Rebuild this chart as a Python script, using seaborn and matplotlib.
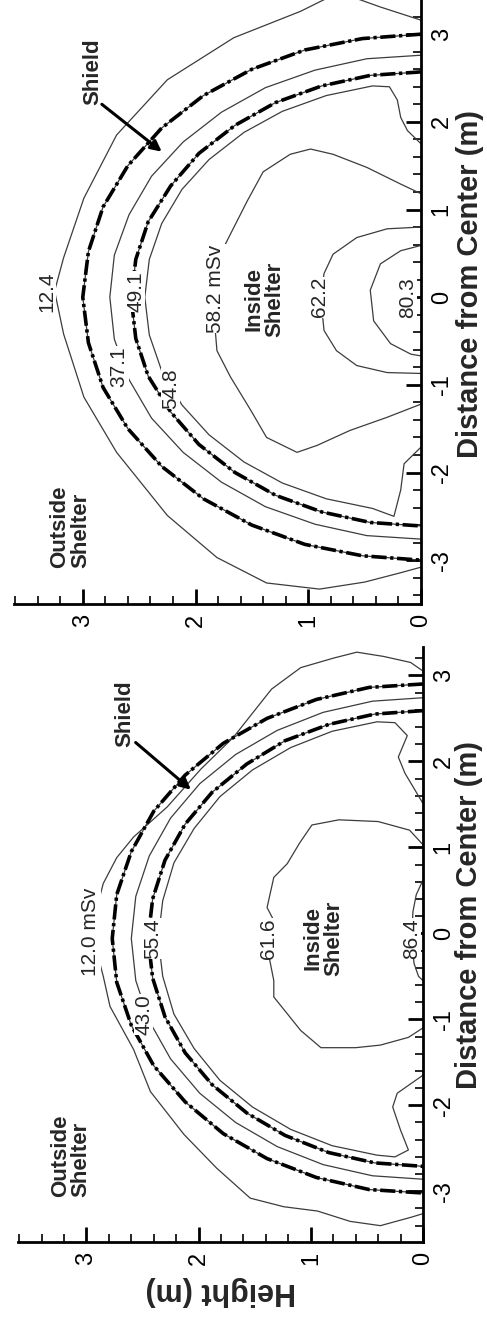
import matplotlib
matplotlib.use("Agg")
import matplotlib.pyplot as plt
from matplotlib.ticker import MultipleLocator
import pandas as pd
import seaborn as sns

# --------------------------------------------------------------
# Data: contour lines as (height m, distance m) points
# --------------------------------------------------------------
# upper panel (hemispherical shield)
top_12_4 = [(0.00, 3.16), (0.36, 3.31), (0.60, 3.42), (0.85, 3.40), (1.07, 3.26), (1.66, 2.96),
            (2.25, 2.48), (2.70, 1.85), (2.99, 1.13), (3.17, 0.45), (3.25, 0.07), (3.17, -0.42),
            (2.99, -1.14), (2.70, -1.77), (2.25, -2.49), (1.81, -2.97), (1.37, -3.26),
            (0.90, -3.33), (0.50, -3.25), (0.20, -3.15), (0.00, -3.08)]
top_37_1 = [(0.00, 2.76), (0.48, 2.72), (0.94, 2.59), (1.38, 2.39), (1.77, 2.11), (2.11, 1.77),
            (2.39, 1.38), (2.59, 0.94), (2.72, 0.48), (2.76, 0.00), (2.72, -0.48), (2.59, -0.94),
            (2.39, -1.38), (2.11, -1.77), (1.77, -2.11), (1.38, -2.39), (0.94, -2.59),
            (0.48, -2.72), (0.00, -2.76)]
top_54_8 = [(0.00, 1.75), (0.12, 1.90), (0.18, 2.05), (0.21, 2.25), (0.28, 2.40), (0.43, 2.41),
            (0.84, 2.30), (1.23, 2.12), (1.57, 1.88), (1.88, 1.57), (2.12, 1.23), (2.30, 0.84),
            (2.41, 0.43), (2.45, 0.00), (2.41, -0.43), (2.30, -0.84), (2.12, -1.23),
            (1.88, -1.57), (1.57, -1.88), (1.23, -2.12), (0.84, -2.30), (0.43, -2.41),
            (0.24, -2.50), (0.18, -2.20), (0.15, -1.90), (0.00, -1.71)]
top_58_2 = [(0.00, 1.18), (0.18, 1.29), (0.48, 1.48), (0.78, 1.63), (0.98, 1.69), (1.16, 1.63),
            (1.40, 1.43), (1.54, 1.10), (1.69, 0.72), (1.78, 0.49), (1.82, 0.10), (1.83, -0.30),
            (1.81, -0.61), (1.69, -0.91), (1.51, -1.29), (1.37, -1.60), (1.10, -1.77),
            (0.92, -1.69), (0.63, -1.52), (0.30, -1.37), (0.00, -1.22)]
top_62_2 = [(0.00, 0.80), (0.30, 0.78), (0.57, 0.68), (0.78, 0.49), (0.86, 0.27), (0.89, 0.00),
            (0.86, -0.38), (0.75, -0.61), (0.57, -0.78), (0.30, -0.86), (0.00, -0.87)]
top_80_3 = [(0.00, 0.59), (0.18, 0.53), (0.36, 0.38), (0.45, 0.08), (0.42, -0.27), (0.27, -0.53),
            (0.09, -0.65), (0.00, -0.67)]
top_shield_outer = [(0.00, 3.00), (0.52, 2.95), (1.03, 2.82), (1.50, 2.60), (1.93, 2.30),
                    (2.30, 1.93), (2.60, 1.50), (2.82, 1.03), (2.95, 0.52), (3.00, 0.00),
                    (2.95, -0.52), (2.82, -1.03), (2.60, -1.50), (2.30, -1.93), (1.93, -2.30),
                    (1.50, -2.60), (1.03, -2.82), (0.52, -2.95), (0.00, -3.00)]
top_shield_inner = [(0.00, 2.57), (0.45, 2.53), (0.88, 2.41), (1.29, 2.22), (1.65, 1.96),
                    (1.97, 1.64), (2.22, 1.27), (2.42, 0.86), (2.53, 0.43), (2.57, -0.02),
                    (2.53, -0.47), (2.42, -0.90), (2.22, -1.31), (1.97, -1.68), (1.65, -2.00),
                    (1.29, -2.26), (0.88, -2.45), (0.45, -2.57), (0.00, -2.61)]
top_levels = ["12.4", "37.1", "49.1", "54.8", "58.2 mSv", "62.2", "80.3"]

# lower panel (elliptical shield)
bot_12_0 = [(0.00, 3.05), (0.11, 3.15), (0.35, 3.22), (0.59, 3.27), (0.80, 3.20), (1.09, 3.09),
            (1.35, 2.84), (1.69, 2.28), (1.98, 1.91), (2.28, 1.47), (2.58, 1.12), (2.73, 0.88),
            (2.85, 0.58), (2.91, 0.28), (2.93, -0.10), (2.85, -0.50), (2.79, -0.85),
            (2.58, -1.35), (2.43, -1.84), (2.13, -2.34), (1.84, -2.73), (1.54, -3.08),
            (1.24, -3.18), (0.94, -3.23), (0.65, -3.35), (0.38, -3.40), (0.10, -3.30),
            (0.00, -3.26)]
bot_43_0 = [(0.00, 2.74), (0.45, 2.70), (0.89, 2.57), (1.30, 2.36), (1.67, 2.08), (1.99, 1.74),
            (2.25, 1.34), (2.44, 0.90), (2.56, 0.43), (2.60, -0.06), (2.56, -0.55), (2.44, -1.02),
            (2.25, -1.46), (1.99, -1.86), (1.67, -2.20), (1.30, -2.48), (0.89, -2.69),
            (0.45, -2.82), (0.00, -2.86)]
bot_55_4 = [(0.00, 1.51), (0.16, 1.86), (0.22, 2.05), (0.14, 2.30), (0.25, 2.45), (0.41, 2.46),
            (0.81, 2.35), (1.18, 2.16), (1.52, 1.90), (1.81, 1.59), (2.04, 1.22), (2.22, 0.82),
            (2.32, 0.38), (2.36, -0.06), (2.32, -0.50), (2.22, -0.94), (2.04, -1.34),
            (1.81, -1.71), (1.52, -2.02), (1.18, -2.28), (0.81, -2.47), (0.41, -2.58),
            (0.25, -2.60), (0.13, -2.52), (0.20, -2.29), (0.27, -2.02), (0.23, -1.86),
            (0.00, -1.65)]
bot_61_6 = [(0.00, 1.03), (0.12, 1.20), (0.40, 1.30), (0.75, 1.32), (0.99, 1.26), (1.10, 1.05),
            (1.21, 0.81), (1.33, 0.65), (1.39, 0.30), (1.33, 0.15), (1.38, -0.22), (1.33, -0.55),
            (1.33, -0.74), (1.09, -1.13), (0.91, -1.33), (0.60, -1.33), (0.38, -1.30),
            (0.13, -1.21), (0.00, -1.10)]
bot_86_4 = [(0.00, 0.62), (0.06, 0.45), (0.09, 0.25), (0.10, -0.06), (0.08, -0.35), (0.04, -0.50),
            (0.00, -0.55)]
bot_shield_outer = [(0.00, 2.90), (0.48, 2.86), (0.95, 2.72), (1.39, 2.50), (1.78, 2.21),
                    (2.12, 1.84), (2.40, 1.42), (2.60, 0.95), (2.73, 0.45), (2.77, -0.06),
                    (2.73, -0.57), (2.60, -1.07), (2.40, -1.54), (2.12, -1.96), (1.78, -2.33),
                    (1.39, -2.62), (0.95, -2.84), (0.48, -2.98), (0.00, -3.02)]
bot_shield_inner = [(0.00, 2.59), (0.43, 2.55), (0.84, 2.43), (1.23, 2.24), (1.57, 1.97),
                    (1.88, 1.64), (2.12, 1.27), (2.30, 0.85), (2.41, 0.40), (2.45, -0.06),
                    (2.41, -0.52), (2.30, -0.97), (2.12, -1.39), (1.88, -1.76), (1.57, -2.09),
                    (1.23, -2.35), (0.84, -2.55), (0.43, -2.67), (0.00, -2.71)]
bot_levels = ["12.0 mSv", "43.0", "55.4", "61.6", "86.4"]


def to_frame(curves):
    rows = []
    for name, pts in curves.items():
        for i, (h, d) in enumerate(pts):
            rows.append({"curve": name, "i": i, "h": h, "d": d})
    return pd.DataFrame(rows)


sns.set_style("white")
FONT = ["Liberation Sans", "DejaVu Sans"]
plt.rcParams["font.family"] = FONT
plt.rcParams["axes.unicode_minus"] = False

GREY = "#3c3c3c"
DASHDOT = (0, (4.2, 1.0, 0.9, 1.0))

fig = plt.figure(figsize=(4.87, 13.2), dpi=100)
ax_top = fig.add_axes([14 / 487, 716 / 1320, 407 / 487, 604 / 1320])
ax_bot = fig.add_axes([18 / 487, 78 / 1320, 405 / 487, 595 / 1320])


def draw_panel(ax, thin, shields, ylim, label_xy):
    thin_df = to_frame({**thin, **shields})
    sns.lineplot(data=thin_df, x="h", y="d", units="curve", estimator=None, sort=False,
                 color=GREY, lw=0.9, ax=ax, legend=False)
    sh_df = to_frame(shields)
    sns.lineplot(data=sh_df, x="h", y="d", units="curve", estimator=None, sort=False,
                 color="black", lw=2.6, linestyle=DASHDOT, ax=ax, legend=False)
    ax.set_xlim(3.61, 0)
    ax.set_ylim(*ylim)
    ax.set_xlabel("")
    for s in ["left", "top"]:
        ax.spines[s].set_visible(False)
    for s in ["right", "bottom"]:
        ax.spines[s].set_linewidth(2.0)
        ax.spines[s].set_color("black")
    ax.yaxis.tick_right()
    ax.yaxis.set_label_position("right")
    ax.xaxis.set_major_locator(MultipleLocator(1))
    ax.xaxis.set_minor_locator(MultipleLocator(0.2))
    ax.yaxis.set_major_locator(MultipleLocator(1))
    ax.yaxis.set_minor_locator(MultipleLocator(0.2))
    ax.tick_params(which="major", direction="in", length=11, width=2.0, colors="black",
                   labelsize=17, pad=7)
    ax.tick_params(which="minor", direction="in", length=6, width=1.2, colors="black")
    ax.tick_params(axis="y", which="both", left=False, right=True)
    ax.tick_params(axis="x", which="both", bottom=True, top=False)
    for lab in ax.get_xticklabels():
        lab.set_rotation(90)
    for lab in ax.get_yticklabels():
        lab.set_rotation(90)
        lab.set_va("center")
    ax.set_ylabel("Distance from Center (m)", fontsize=21, fontweight="bold", rotation=90)
    ax.yaxis.set_label_coords(*label_xy)


def level_label(ax, text, h, d):
    ax.text(h, d, text, rotation=90, ha="center", va="center", fontsize=15,
            bbox=dict(facecolor="white", edgecolor="none", pad=0.2), zorder=5)


def note(ax, text, h, d, align):
    ax.text(h, d, text, rotation=90, ha="center", va="center", fontsize=16,
            fontweight="bold", multialignment=align, linespacing=1.0, zorder=6)


# upper panel
draw_panel(ax_top,
           {"c12": top_12_4, "c37": top_37_1, "c54": top_54_8, "c58": top_58_2,
            "c62": top_62_2, "c80": top_80_3},
           {"so": top_shield_outer, "si": top_shield_inner},
           (-3.50, 3.39), (1.085, 0.53))
top_label_pos = [(3.32, 0.06), (2.68, -0.79), (2.53, 0.06), (2.22, -1.04), (1.82, 0.10),
                 (0.90, 0.00), (0.12, 0.00)]
for txt, (h, d) in zip(top_levels, top_label_pos):
    level_label(ax_top, txt, h, d)
note(ax_top, "Outside\nShelter", 3.11, -2.62, "left")
note(ax_top, "Inside\nShelter", 1.39, -0.02, "center")
note(ax_top, "Shield", 2.91, 2.57, "left")
ax_top.annotate("", xy=(2.28, 1.64), xytext=(2.85, 2.22),
                arrowprops=dict(arrowstyle="-|>", color="black", lw=2.2, mutation_scale=16))

# lower panel
draw_panel(ax_bot,
           {"c12": bot_12_0, "c43": bot_43_0, "c55": bot_55_4, "c61": bot_61_6, "c86": bot_86_4},
           {"so": bot_shield_outer, "si": bot_shield_inner},
           (-3.59, 3.33), (1.080, 0.55))
bot_label_pos = [(2.96, 0.02), (2.49, -0.94), (2.41, -0.06), (1.38, -0.06), (0.10, -0.06)]
for txt, (h, d) in zip(bot_levels, bot_label_pos):
    level_label(ax_bot, txt, h, d)
note(ax_bot, "Outside\nShelter", 3.14, -2.59, "left")
note(ax_bot, "Inside\nShelter", 0.89, -0.06, "center")
note(ax_bot, "Shield", 2.66, 2.56, "left")
ax_bot.annotate("", xy=(2.05, 1.65), xytext=(2.58, 2.24),
                arrowprops=dict(arrowstyle="-|>", color="black", lw=2.2, mutation_scale=16))
ax_bot.set_xlabel("Height (m)", fontsize=22, fontweight="bold", rotation=180, labelpad=8)

fig.savefig("out.png", dpi=100)
